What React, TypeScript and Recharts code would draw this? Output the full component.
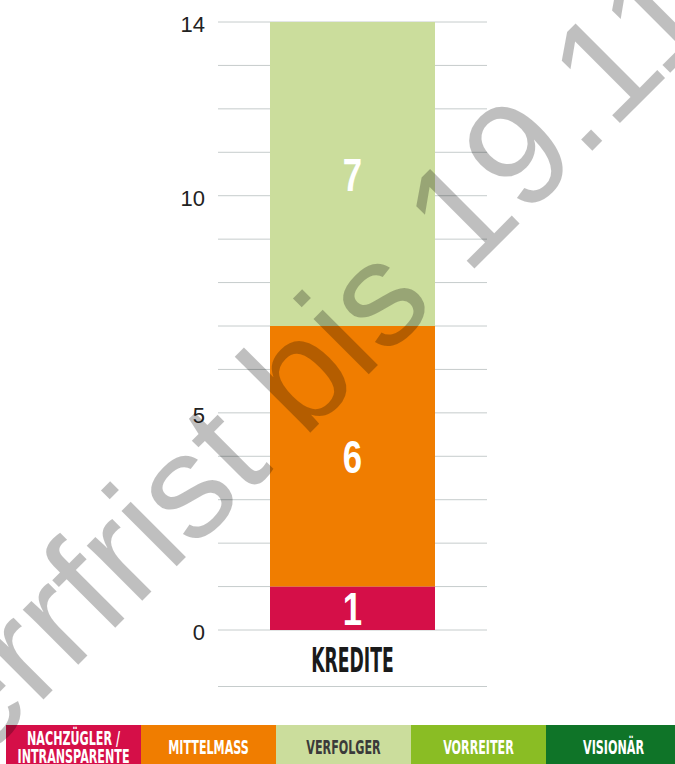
import { BarChart, Bar, XAxis, YAxis, CartesianGrid, LabelList } from "recharts";

const categories = ["KREDITE"];
const nachzuegler = [1];
const mittelmass = [6];
const verfolger = [7];

const yTicks = [0, 1, 2, 3, 4, 5, 6, 7, 8, 9, 10, 11, 12, 13, 14];
const yLabels = [0, 5, 10, 14];

const legendNames = [
  ["NACHZÜGLER /", "INTRANSPARENTE"],
  ["MITTELMASS"],
  ["VERFOLGER"],
  ["VORREITER"],
  ["VISIONÄR"],
];
const legendColors = ["#d50f48", "#f07d00", "#cbdd9c", "#8abd24", "#0f7428"];
const legendInk = ["#fff", "#fff", "#3a3a3a", "#fff", "#fff"];

const watermark = "Sperrfrist bis 19.11.";

const CONDENSED = '"DejaVu Sans Condensed", "DejaVu Sans", sans-serif';
const SANS = '"Liberation Sans", Arial, sans-serif';

const data = categories.map((name, i) => ({
  name,
  nachzuegler: nachzuegler[i],
  mittelmass: mittelmass[i],
  verfolger: verfolger[i],
}));

const SegmentLabel = (props: any) => {
  const vb = props.viewBox ?? props;
  const x = props.x ?? vb.x;
  const y = props.y ?? vb.y;
  const w = props.width ?? vb.width;
  const h = props.height ?? vb.height;
  return (
    <text
      transform={`translate(${x + w / 2},${y + h / 2}) scale(0.74,1)`}
      textAnchor="middle"
      dy="0.36em"
      fill="#fff"
      fontSize={47}
      fontWeight={700}
      fontFamily={SANS}
    >
      {props.value}
    </text>
  );
};

const CategoryTick = ({ x, y, payload }: any) => (
  <text
    transform={`translate(${x},${y + 34}) scale(0.58,1)`}
    textAnchor="middle"
    fontSize={33}
    fontWeight={700}
    fill="#1a1a1a"
    fontFamily={CONDENSED}
  >
    {payload.value}
  </text>
);

function LegendRow() {
  const boxW = 135;
  return (
    <svg width={675} height={40} style={{ position: "absolute", left: 0, top: 725 }}>
      {legendNames.map((lines, i) => {
        const cx = 6 + boxW * i + boxW / 2;
        return (
          <g key={i}>
            <rect x={6 + boxW * i} y={0} width={boxW} height={40} fill={legendColors[i]} />
            {lines.map((t, j) => (
              <text
                key={j}
                transform={`translate(${cx},${lines.length > 1 ? 20 + j * 18 : 29}) scale(0.62,1)`}
                textAnchor="middle"
                fontSize={20}
                fontWeight={700}
                fill={legendInk[i]}
                fontFamily={CONDENSED}
              >
                {t}
              </text>
            ))}
          </g>
        );
      })}
    </svg>
  );
}

export default function App() {
  return (
    <div style={{ position: "absolute", left: 0, top: 0, width: 675, height: 764, background: "#fff", overflow: "hidden", fontFamily: SANS }}>
      <BarChart width={675} height={700} data={data} margin={{ top: 22, right: 188, bottom: 0, left: 0 }}>
        <CartesianGrid vertical={false} stroke="#c6cccc" />
        <XAxis dataKey="name" height={70} axisLine={false} tickLine={false} tick={<CategoryTick />} />
        <YAxis
          width={218}
          domain={[0, 14]}
          ticks={yTicks}
          interval={0}
          axisLine={false}
          tickLine={false}
          tickMargin={7}
          dy={2}
          tick={{ fill: "#222", fontSize: 22, fontFamily: SANS }}
          tickFormatter={(v: number) => (yLabels.includes(v) ? String(v) : "")}
        />
        <Bar dataKey="nachzuegler" stackId="a" fill="#d50f48" barSize={165} isAnimationActive={false}>
          <LabelList dataKey="nachzuegler" content={SegmentLabel} />
        </Bar>
        <Bar dataKey="mittelmass" stackId="a" fill="#f07d00" barSize={165} isAnimationActive={false}>
          <LabelList dataKey="mittelmass" content={SegmentLabel} />
        </Bar>
        <Bar dataKey="verfolger" stackId="a" fill="#cbdd9c" barSize={165} isAnimationActive={false}>
          <LabelList dataKey="verfolger" content={SegmentLabel} />
        </Bar>
      </BarChart>
      {/* thin rule under the category label */}
      <div style={{ position: "absolute", left: 218, top: 686, width: 269, height: 1, background: "#c6cccc" }} />
      <LegendRow />
      <svg width={675} height={764} style={{ position: "absolute", left: 0, top: 0, pointerEvents: "none" }}>
        <text
          transform="translate(-150,893) rotate(-45)"
          fontSize={148}
          fontFamily={SANS}
          fill="rgba(0,0,0,0.25)"
        >
          {watermark}
        </text>
      </svg>
    </div>
  );
}
